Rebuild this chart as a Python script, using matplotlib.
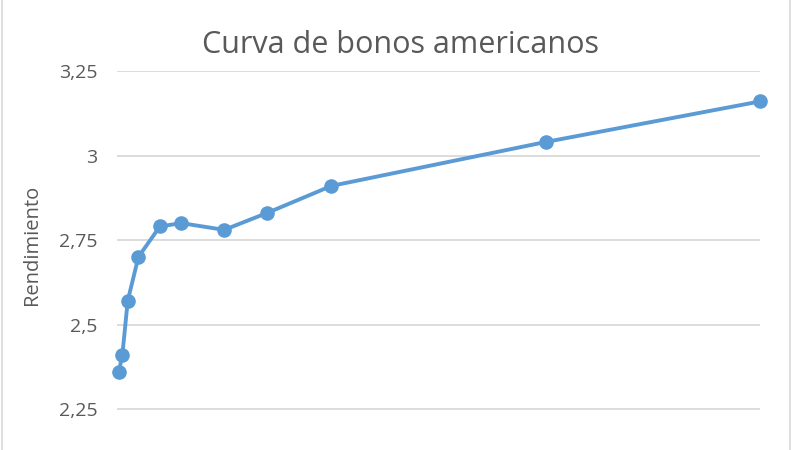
import matplotlib.pyplot as plt
from matplotlib.patches import Rectangle

# plazos en años y rendimientos
plazos = [1/12, 0.25, 0.5, 1, 2, 3, 5, 7, 10, 20, 30]
rendimientos = [2.36, 2.41, 2.57, 2.70, 2.79, 2.80, 2.78, 2.83, 2.91, 3.04, 3.16]
ticks_y = [2.25, 2.5, 2.75, 3, 3.25]
etiquetas_y = ["2,25", "2,5", "2,75", "3", "3,25"]

plt.rcParams['font.family'] = ['Open Sans', 'DejaVu Sans']

fig = plt.figure(figsize=(8, 4.5), dpi=100)
ax = fig.add_axes([0.14625, -0.0967, 0.80375, 0.9389])

ax.plot(plazos, rendimientos, color="#5B9BD5", lw=2.8, marker="o", ms=9.5,
        clip_on=False, zorder=3)

ax.set_xlim(0, 30)
ax.set_ylim(2.0, 3.25)
ax.set_yticks(ticks_y)
ax.set_yticklabels(etiquetas_y)
ax.yaxis.grid(True, color="#D9D9D9", lw=1.3)
ax.set_axisbelow(True)
ax.set_xticks([])
for s in ax.spines.values():
    s.set_visible(False)
ax.tick_params(axis="y", length=0, pad=14, labelsize=14, labelcolor="#595959")

fig.text(32/800, 1 - 245/450, "Rendimiento", rotation=90, ha="center", va="center",
         fontsize=14.5, color="#595959")
fig.text(0.5, 1 - 45/450, "Curva de bonos americanos", ha="center", va="center",
         fontsize=22, color="#595959")

# borde del gráfico
fig.patches.append(Rectangle((0.003, -0.1), 0.985, 1.2, transform=fig.transFigure,
                             fill=False, ec="#D9D9D9", lw=1.2))

fig.savefig("out.png", dpi=100)
